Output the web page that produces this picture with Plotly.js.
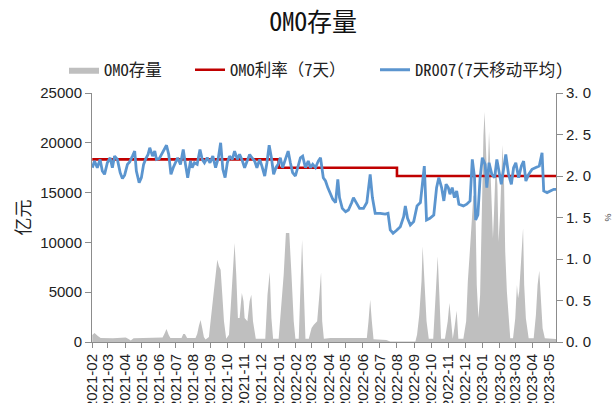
<!DOCTYPE html>
<html>
<head>
<meta charset="utf-8">
<script src="https://cdn.plot.ly/plotly-3.0.1.min.js"></script>
<style>html,body{margin:0;padding:0;background:#fff;}#chart{width:614px;height:403px;}</style>
</head>
<body>
<div id="chart"></div>
<script>
// OMO balance (亿元)
const omoDates = ["2021-02-01","2021-02-05","2021-02-11","2021-02-16","2021-03-10","2021-04-02","2021-04-07","2021-04-11","2021-04-16","2021-05-17","2021-06-07","2021-06-11","2021-06-14","2021-06-18","2021-06-21","2021-07-11","2021-07-14","2021-07-17","2021-07-21","2021-08-05","2021-08-08","2021-08-11","2021-08-14","2021-08-17","2021-08-20","2021-08-23","2021-08-29","2021-09-01","2021-09-05","2021-09-10","2021-09-13","2021-09-16","2021-09-19","2021-09-22","2021-09-25","2021-09-29","2021-10-04","2021-10-07","2021-10-10","2021-10-14","2021-10-17","2021-10-20","2021-10-23","2021-10-27","2021-10-30","2021-11-01","2021-11-06","2021-11-10","2021-11-13","2021-11-16","2021-11-21","2021-12-08","2021-12-12","2021-12-16","2021-12-19","2021-12-22","2022-01-01","2022-01-06","2022-01-10","2022-01-14","2022-01-20","2022-01-24","2022-01-28","2022-01-31","2022-02-06","2022-02-09","2022-02-12","2022-02-15","2022-02-18","2022-02-24","2022-03-01","2022-03-05","2022-03-11","2022-03-15","2022-03-18","2022-03-20","2022-03-23","2022-04-04","2022-05-27","2022-06-08","2022-06-11","2022-06-14","2022-06-17","2022-06-20","2022-07-13","2022-07-20","2022-09-03","2022-09-06","2022-09-10","2022-09-14","2022-09-16","2022-09-19","2022-09-23","2022-09-27","2022-10-05","2022-10-10","2022-10-13","2022-10-16","2022-10-19","2022-10-26","2022-10-31","2022-11-03","2022-11-06","2022-11-09","2022-11-12","2022-11-16","2022-11-19","2022-11-28","2022-12-03","2022-12-06","2022-12-10","2022-12-13","2022-12-16","2022-12-18","2022-12-20","2022-12-22","2022-12-25","2022-12-28","2022-12-31","2023-01-03","2023-01-05","2023-01-07","2023-01-10","2023-01-13","2023-01-16","2023-01-20","2023-01-22","2023-01-25","2023-01-28","2023-01-30","2023-02-02","2023-02-04","2023-02-06","2023-02-09","2023-02-11","2023-02-14","2023-02-17","2023-02-20","2023-02-25","2023-03-01","2023-03-04","2023-03-06","2023-03-08","2023-03-11","2023-03-15","2023-03-17","2023-03-20","2023-03-25","2023-04-03","2023-04-07","2023-04-10","2023-04-13","2023-04-16","2023-04-19","2023-04-23","2023-05-13"];
const omoValues = [700,900,600,400,380,450,300,150,380,400,450,900,1300,700,400,400,800,800,400,400,800,1600,2200,1400,500,250,500,2080,4080,6760,8260,7600,7260,4750,2080,330,730,3410,6430,9940,6760,2410,2410,4920,4080,2410,2080,4080,4750,2080,330,330,4750,7000,2410,330,330,4080,6760,10940,10940,6760,2080,330,330,5420,10270,5420,330,330,1400,1740,2080,4750,7000,2080,330,400,400,400,2080,4250,2080,270,200,50,50,730,2740,6120,9610,6760,2080,330,330,5420,8600,4750,330,330,2080,3910,2080,330,1400,3140,330,330,2080,6090,9440,12780,14760,14460,12420,5720,2380,4720,14090,20780,23100,19110,15760,21110,15760,10410,13080,18000,15760,10070,13080,18100,19780,15760,9070,5050,2380,370,370,2380,5720,4390,5050,7400,11410,5720,2380,370,370,2710,5720,7160,4390,1370,370,300];

// OMO 7-day rate (%)
const rateDates = ["2021-02-01","2022-01-01","2022-08-01","2023-05-13"];
const rateValues = [2.2,2.1,2.0,2.0];

// DR007 7-day moving average (%)
const drDates = ["2021-02-01","2021-02-05","2021-02-10","2021-02-15","2021-02-19","2021-02-23","2021-02-28","2021-03-05","2021-03-09","2021-03-13","2021-03-18","2021-03-23","2021-03-27","2021-03-31","2021-04-05","2021-04-09","2021-04-14","2021-04-18","2021-04-21","2021-04-26","2021-04-30","2021-05-04","2021-05-08","2021-05-12","2021-05-15","2021-05-20","2021-05-24","2021-05-27","2021-06-01","2021-06-05","2021-06-09","2021-06-14","2021-06-18","2021-06-22","2021-06-26","2021-06-30","2021-07-04","2021-07-09","2021-07-14","2021-07-18","2021-07-22","2021-07-27","2021-07-30","2021-08-03","2021-08-08","2021-08-13","2021-08-17","2021-08-21","2021-08-26","2021-08-31","2021-09-05","2021-09-10","2021-09-15","2021-09-19","2021-09-23","2021-09-27","2021-10-01","2021-10-05","2021-10-10","2021-10-14","2021-10-19","2021-10-23","2021-10-27","2021-11-01","2021-11-06","2021-11-10","2021-11-14","2021-11-19","2021-11-23","2021-11-28","2021-12-02","2021-12-07","2021-12-11","2021-12-15","2021-12-19","2021-12-23","2021-12-27","2021-12-31","2022-01-04","2022-01-08","2022-01-13","2022-01-18","2022-01-22","2022-01-26","2022-01-31","2022-02-05","2022-02-09","2022-02-13","2022-02-18","2022-02-23","2022-02-27","2022-03-03","2022-03-08","2022-03-13","2022-03-17","2022-03-22","2022-03-26","2022-03-30","2022-04-04","2022-04-08","2022-04-13","2022-04-17","2022-04-20","2022-04-25","2022-05-01","2022-05-06","2022-05-12","2022-05-15","2022-05-20","2022-05-26","2022-06-02","2022-06-08","2022-06-14","2022-06-18","2022-06-23","2022-07-02","2022-07-11","2022-07-16","2022-07-20","2022-07-25","2022-08-01","2022-08-07","2022-08-13","2022-08-16","2022-08-20","2022-08-25","2022-08-31","2022-09-06","2022-09-12","2022-09-15","2022-09-19","2022-09-23","2022-09-29","2022-10-06","2022-10-11","2022-10-15","2022-10-20","2022-10-24","2022-10-28","2022-11-01","2022-11-04","2022-11-08","2022-11-12","2022-11-16","2022-11-20","2022-11-28","2022-12-04","2022-12-10","2022-12-14","2022-12-18","2022-12-20","2022-12-24","2022-12-28","2023-01-01","2023-01-06","2023-01-09","2023-01-13","2023-01-18","2023-01-23","2023-01-27","2023-01-31","2023-02-04","2023-02-08","2023-02-12","2023-02-17","2023-02-22","2023-02-26","2023-03-02","2023-03-07","2023-03-12","2023-03-16","2023-03-20","2023-03-25","2023-03-31","2023-04-06","2023-04-13","2023-04-18","2023-04-21","2023-04-27","2023-05-03","2023-05-09","2023-05-13"];
const drValues = [2.10,2.18,2.10,2.20,2.06,2.02,2.16,2.22,2.10,2.24,2.20,2.04,1.97,2.01,2.14,2.17,2.24,2.30,2.06,1.92,1.98,2.14,2.21,2.26,2.34,2.24,2.30,2.20,2.21,2.26,2.30,2.37,2.26,2.02,2.10,2.17,2.22,2.14,2.32,2.14,1.98,2.18,2.10,2.16,2.14,2.32,2.20,2.16,2.22,2.16,2.24,2.10,2.22,2.40,2.08,1.98,2.16,2.24,2.20,2.30,2.20,2.26,2.20,2.10,2.20,2.26,2.22,2.18,2.10,2.20,2.12,2.00,2.16,2.37,2.22,2.02,2.10,2.14,2.22,2.10,2.20,2.30,2.16,2.04,2.00,2.14,2.22,2.24,2.10,2.18,2.10,2.14,2.10,2.18,2.22,1.98,1.94,1.86,1.78,1.72,1.68,1.96,1.74,1.61,1.57,1.59,1.68,1.74,1.68,1.61,1.61,1.68,2.02,1.74,1.55,1.55,1.54,1.55,1.35,1.31,1.35,1.39,1.51,1.64,1.49,1.41,1.45,1.64,1.68,1.84,2.12,1.47,1.49,1.53,1.86,1.98,1.86,1.70,1.90,1.86,1.78,1.86,1.74,1.82,1.66,1.64,1.66,1.70,2.20,1.98,1.47,1.53,1.98,2.22,2.14,1.86,2.16,2.02,1.98,2.20,2.06,1.90,2.08,2.26,2.02,1.90,2.10,2.16,1.98,2.12,2.18,1.94,2.02,2.08,2.10,2.12,2.28,1.82,1.80,1.82,1.84,1.84];

const seriesNames = ["OMO存量","OMO利率（7天）","DR007(7天移动平均)"];
const leftTicks = [0,5000,10000,15000,20000,25000];
const rightTicks = [0,0.5,1,1.5,2,2.5,3];
const rightTickText = ["0. 0","0. 5","1. 0","1. 5","2. 0","2. 5","3. 0"];

const cjk = "Noto Sans Mono CJK SC, Noto Sans CJK SC, sans-serif";
const latin = "Liberation Sans, Arial, sans-serif";
const axisGray = "#8c8c8c";

const traces = [
  {x: omoDates, y: omoValues, name: seriesNames[0], type: "scatter", mode: "lines",
   fill: "tozeroy", fillcolor: "#bfbfbf", line: {width: 0, color: "#bfbfbf"}, yaxis: "y", legend: "legend"},
  {x: rateDates, y: rateValues, name: seriesNames[1], type: "scatter", mode: "lines",
   line: {color: "#c00000", width: 2.6, shape: "hv"}, yaxis: "y2", legend: "legend2"},
  {x: drDates, y: drValues, name: seriesNames[2], type: "scatter", mode: "lines",
   line: {color: "#5b95cf", width: 2.8}, yaxis: "y2", legend: "legend3"}
];

const legFont = {family: cjk, size: 16.5, color: "#222"};
function leg(px) {
  return {x: (px - 92) / 464, xanchor: "left", y: (342 - 70) / 249, yanchor: "middle",
          orientation: "h", font: legFont, bgcolor: "rgba(0,0,0,0)", borderwidth: 0, itemwidth: 30};
}

const layout = {
  width: 614, height: 403,
  margin: {l: 92, r: 58, t: 93, b: 61, autoexpand: false},
  paper_bgcolor: "#fff", plot_bgcolor: "#fff",
  showlegend: true,
  title: {text: "OMO存量", font: {family: cjk, size: 25, color: "#111"},
          x: 0.51, xanchor: "center", y: 1 - 22 / 403, yanchor: "middle", yref: "container"},
  legend: leg(64),
  legend2: leg(190),
  legend3: leg(375),
  xaxis: {type: "date", range: ["2021-01-31 12:00", "2023-05-13"],
          tick0: "2021-02-01", dtick: "M1", tickformat: "%Y-%m", tickangle: -90,
          showgrid: false, zeroline: false, showline: true, linecolor: axisGray, linewidth: 1,
          ticks: "outside", ticklen: 5, tickcolor: axisGray,
          tickfont: {family: latin, size: 15, color: "#222"}, automargin: false},
  yaxis: {range: [0, 25000], tickvals: leftTicks, tickformat: "d", showgrid: false, zeroline: false,
          showline: true, linecolor: axisGray, linewidth: 1, ticks: "outside", ticklen: 6, tickcolor: axisGray,
          tickfont: {family: latin, size: 15, color: "#222"}, automargin: false,
          title: {text: "亿元", font: {family: cjk, size: 18, color: "#222"}, standoff: 4}},
  yaxis2: {overlaying: "y", side: "right", range: [0, 3], tickvals: rightTicks, ticktext: rightTickText,
           showgrid: false, zeroline: false, showline: true, linecolor: axisGray, linewidth: 1,
           ticks: "outside", ticklen: 6, tickcolor: axisGray,
           tickfont: {family: latin, size: 15, color: "#222"}, automargin: false,
           title: {text: "%", font: {family: latin, size: 9, color: "#444"}, standoff: 14}}
};

Plotly.newPlot("chart", traces, layout, {displayModeBar: false, staticPlot: true});
</script>
</body>
</html>
